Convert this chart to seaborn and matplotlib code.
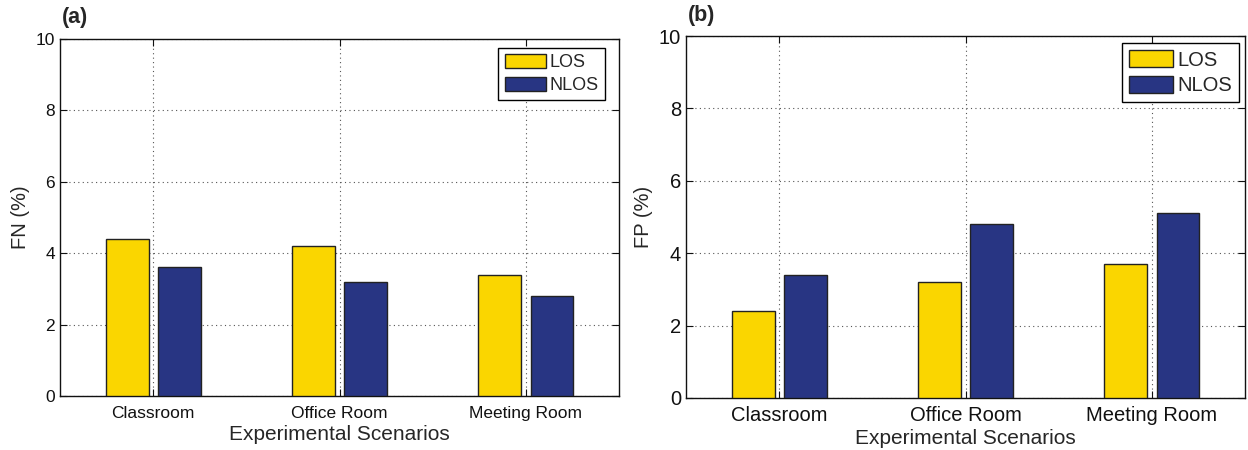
import pandas as pd
import seaborn as sns
import matplotlib.pyplot as plt

# --- data ---
scenarios = ['Classroom', 'Office Room', 'Meeting Room']
conditions = ['LOS', 'NLOS']
fn_los = [4.4, 4.2, 3.4]
fn_nlos = [3.6, 3.2, 2.8]
fp_los = [2.4, 3.2, 3.7]
fp_nlos = [3.4, 4.8, 5.1]
y_ticks = [0, 2, 4, 6, 8, 10]

colors = ['#FAD600', '#283583']

sns.set_style('ticks')
plt.rcParams['font.family'] = ['Liberation Sans', 'DejaVu Sans']


def make_df(los, nlos):
    return pd.DataFrame({
        'scenario': scenarios * 2,
        'cond': [conditions[0]] * 3 + [conditions[1]] * 3,
        'value': los + nlos,
    })


def draw_panel(ax, df, ylabel, tick_fs, xpad, xlabelpad, leg):
    sns.barplot(data=df, x='scenario', y='value', hue='cond', order=scenarios,
                hue_order=conditions, palette=colors, width=0.56, gap=0.18,
                edgecolor='#222222', linewidth=1.0, saturation=1, ax=ax, zorder=3)
    ax.set_xlim(-0.5, 2.5)
    ax.set_ylim(0, 10)
    ax.set_yticks(y_ticks)
    ax.grid(True, linestyle=(0, (1, 3)), color='#555555', linewidth=0.8, zorder=0)
    ax.set_axisbelow(True)
    ax.tick_params(direction='in', top=True, right=True, length=5, width=0.8,
                   labelsize=tick_fs, colors='#111111')
    ax.tick_params(axis='x', pad=xpad)
    for s in ax.spines.values():
        s.set_linewidth(1.0)
        s.set_color('#111111')
    ax.set_xlabel('Experimental Scenarios', fontsize=15, labelpad=xlabelpad)
    ax.set_ylabel(ylabel, fontsize=14.5, labelpad=4)
    ax.legend(loc='upper right', bbox_to_anchor=leg['anchor'], borderaxespad=0,
              fontsize=leg['fs'], fancybox=False, framealpha=1,
              edgecolor='black', handlelength=leg['hl'], handleheight=leg['hh'],
              handletextpad=0.2, borderpad=0.35, labelspacing=0.3)


fig = plt.figure(figsize=(12.48, 4.5), dpi=100)
ax_a = fig.add_axes([0.0481, 0.12, 0.448, 0.7933])
ax_b = fig.add_axes([0.5497, 0.1156, 0.448, 0.8044])

draw_panel(ax_a, make_df(fn_los, fn_nlos), 'FN (%)', 12.5, 7.5, 2.5,
           {'anchor': (0.975, 0.975), 'fs': 13, 'hl': 2.3, 'hh': 0.8})
draw_panel(ax_b, make_df(fp_los, fp_nlos), 'FP (%)', 14.5, 6, 2.5,
           {'anchor': (0.989, 0.981), 'fs': 14.5, 'hl': 2.2, 'hh': 0.95})

fig.text(62 / 1248, 1 - 17 / 450, '(a)', fontsize=15.5, fontweight='bold', va='center')
fig.text(688 / 1248, 1 - 15 / 450, '(b)', fontsize=15.5, fontweight='bold', va='center')

fig.savefig('out.png', dpi=100)
